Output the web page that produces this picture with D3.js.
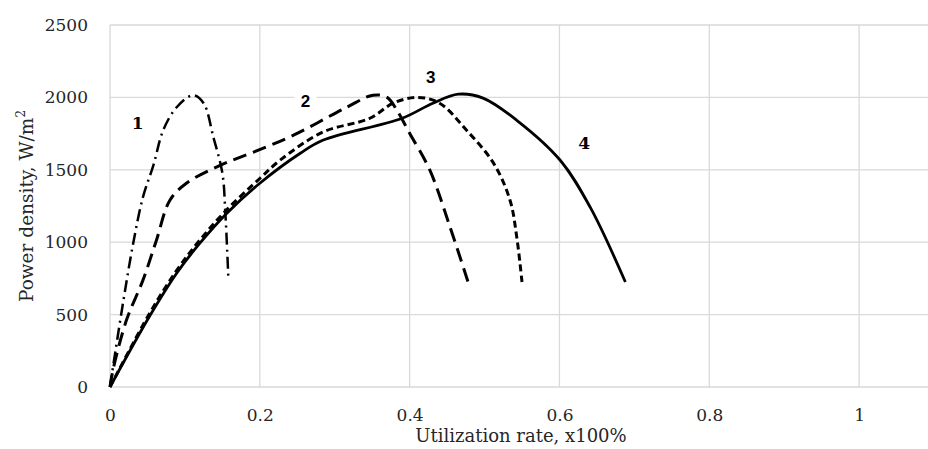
<!doctype html>
<html>
<head>
<meta charset="utf-8">
<script src="https://cdnjs.cloudflare.com/ajax/libs/d3/7.8.5/d3.min.js"></script>
<style>
  body { margin: 0; background: #fff; }
  svg { display: block; }
  .tick text { font-family: "DejaVu Serif", serif; font-size: 17px; fill: #262626; }
</style>
</head>
<body>
<svg id="chart" width="928" height="449"></svg>
<script>
// values
var xTicks = [0, 0.2, 0.4, 0.6, 0.8, 1];
var yTicks = [0, 500, 1000, 1500, 2000, 2500];

var c1x = [0, 0.004, 0.018, 0.031, 0.044, 0.058, 0.071, 0.089, 0.111, 0.125, 0.138, 0.15, 0.154, 0.158];
var c1y = [0, 138, 600, 993, 1311, 1532, 1773, 1932, 2015, 1960, 1725, 1477, 1200, 752];

var c2x = [0, 0.004, 0.022, 0.044, 0.062, 0.08, 0.102, 0.147, 0.191, 0.245, 0.316, 0.351, 0.37, 0.383, 0.4, 0.427, 0.454, 0.478];
var c2y = [0, 117, 462, 738, 1014, 1290, 1407, 1531, 1621, 1739, 1932, 2015, 2000, 1911, 1752, 1497, 1104, 725];

var c3x = [0, 0.053, 0.089, 0.12, 0.156, 0.2, 0.227, 0.284, 0.347, 0.378, 0.41, 0.44, 0.476, 0.512, 0.534, 0.543, 0.55];
var c3y = [0, 510, 805, 1015, 1225, 1440, 1566, 1760, 1856, 1960, 2000, 1960, 1773, 1546, 1290, 1035, 725];

var c4x = [0, 0.053, 0.089, 0.12, 0.156, 0.2, 0.254, 0.284, 0.39, 0.431, 0.465, 0.498, 0.543, 0.601, 0.641, 0.688];
var c4y = [0, 490, 786, 993, 1200, 1407, 1614, 1704, 1856, 1960, 2022, 1995, 1842, 1566, 1242, 725];

var labels = ["1", "2", "3", "4"];
var labelX = [0.037, 0.261, 0.428, 0.633];
var labelY = [1823, 1975, 2140, 1685];

var svg = d3.select("#chart");
var x = d3.scaleLinear().domain([0, 1.1]).range([110, 934]);
var y = d3.scaleLinear().domain([0, 2500]).range([387, 25]);

// gridlines
svg.append("g").selectAll("line").data(yTicks).enter().append("line")
  .attr("x1", x(0)).attr("x2", x(1.1))
  .attr("y1", d => y(d)).attr("y2", d => y(d))
  .attr("stroke", "#d9d9d9").attr("stroke-width", 1.3);
svg.append("g").selectAll("line").data(xTicks).enter().append("line")
  .attr("x1", d => x(d)).attr("x2", d => x(d))
  .attr("y1", y(0)).attr("y2", y(2500))
  .attr("stroke", "#d9d9d9").attr("stroke-width", 1.3);

// axes (labels only)
var xAxis = svg.append("g").attr("transform", "translate(0," + y(0) + ")")
  .call(d3.axisBottom(x).tickValues(xTicks).tickFormat(d3.format("")).tickSize(0).tickPadding(22));
xAxis.select(".domain").remove();
var yAxis = svg.append("g").attr("transform", "translate(" + x(0) + ",0)")
  .call(d3.axisLeft(y).tickValues(yTicks).tickFormat(d3.format("d")).tickSize(0).tickPadding(22));
yAxis.select(".domain").remove();

svg.append("text").attr("x", 521).attr("y", 442)
  .attr("text-anchor", "middle")
  .style("font-family", "DejaVu Serif, serif").style("font-size", "18px").style("fill", "#262626")
  .text("Utilization rate, x100%");

var yt = svg.append("text").attr("transform", "translate(33," + ((y(0) + y(2500)) / 2) + ") rotate(-90)")
  .attr("text-anchor", "middle")
  .style("font-family", "DejaVu Serif, serif").style("font-size", "18.5px").style("fill", "#262626");
yt.append("tspan").text("Power density, W/m");
yt.append("tspan").attr("dy", -8).style("font-size", "12px").text("2");

// curve labels with white boxes
var lab = svg.append("g").selectAll("g").data(labels).enter().append("g")
  .attr("transform", (d, i) => "translate(" + x(labelX[i]) + "," + y(labelY[i]) + ")");
lab.append("rect").attr("x", -11).attr("y", -12).attr("width", 22).attr("height", 24).attr("fill", "#fff");
lab.append("text").attr("text-anchor", "middle").attr("dy", "0.35em")
  .style("font-family", (d, i) => (i == 1 || i == 2) ? "Liberation Sans, Arial, sans-serif" : "DejaVu Serif, serif")
  .style("font-weight", "bold").style("font-size", "17px").style("fill", "#000")
  .text(d => d);

var line = d3.line().x(d => x(d[0])).y(d => y(d[1])).curve(d3.curveCatmullRom.alpha(0.5));
var series = [
  { xs: c1x, ys: c1y, dash: "12,5,2,5", w: 2.5 },
  { xs: c2x, ys: c2y, dash: "14,7", w: 3 },
  { xs: c3x, ys: c3y, dash: "7,4", w: 3 },
  { xs: c4x, ys: c4y, dash: null, w: 2.8 }
];
series.forEach(s => {
  svg.append("path")
    .datum(s.xs.map((v, i) => [v, s.ys[i]]))
    .attr("d", line)
    .attr("fill", "none")
    .attr("stroke", "#000")
    .attr("stroke-width", s.w)
    .attr("stroke-dasharray", s.dash);
});
</script>
</body>
</html>
